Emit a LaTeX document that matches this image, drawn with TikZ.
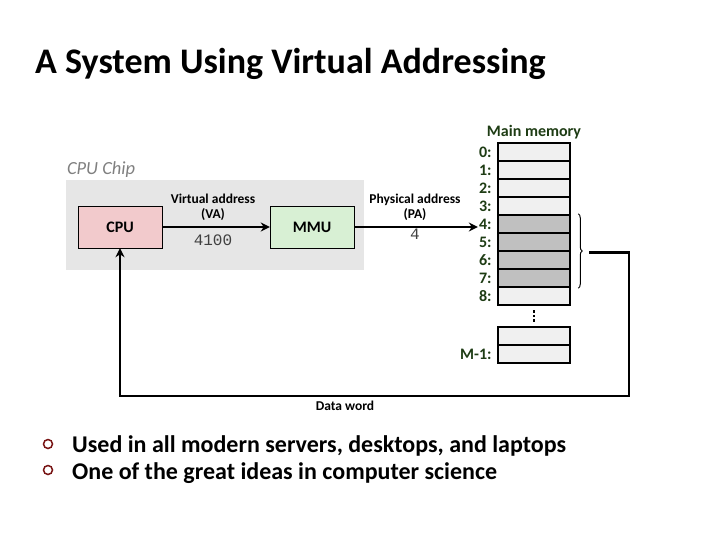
\documentclass[tikz,border=0pt]{standalone}
\usepackage{fontspec}
\setmainfont{Carlito}
\newfontfamily\codefont{Liberation Mono}
\usetikzlibrary{positioning,arrows.meta,decorations.pathreplacing}
\definecolor{chipgray}{RGB}{230,230,230}
\definecolor{cpupink}{RGB}{242,202,204}
\definecolor{mmugreen}{RGB}{216,240,212}
\definecolor{cellfill}{RGB}{240,240,240}
\definecolor{cellshade}{RGB}{192,192,192}
\definecolor{memgreen}{RGB}{30,60,20}
\definecolor{bulletred}{RGB}{120,20,20}
\newcommand\ch{18pt}

\begin{document}
\begin{tikzpicture}[x=1pt,y=-1pt,
			box/.style={draw,rectangle,minimum width=84pt,minimum height=42pt,inner sep=0pt,font=\bfseries\fontsize{16}{18}\selectfont},
			cell/.style={draw,line width=2.5pt,fill=cellfill,minimum width=72pt,minimum height=\ch,inner sep=0pt},
			hot/.style={cell,fill=cellshade},
			addr/.style={font=\bfseries\fontsize{16}{16}\selectfont,text=memgreen,inner sep=1pt},
			lbl/.style={align=center,font=\bfseries\fontsize{13.5}{15}\selectfont,inner sep=0pt},
			num/.style={font=\codefont\fontsize{16}{16}\selectfont,text=black!75,inner sep=0pt},
			point/.style={anchor=west,font=\bfseries\fontsize{24}{28}\selectfont,inner sep=0pt},
			ring/.style={circle,draw=bulletred,line width=1.5pt,minimum size=9pt,inner sep=0pt},
			wire/.style={line width=2.5pt,-{Stealth[length=9pt,width=9pt]}}
		]
		\useasboundingbox (0,0) rectangle (720,540);
		\node [anchor=base west,font=\bfseries\fontsize{36}{40}\selectfont,inner sep=0pt] (title) at (35,74) {A System Using Virtual Addressing};

		% the chip
		\node [fill=chipgray,minimum width=298pt,minimum height=90pt] (chip) at (215,225) {};
		\node [anchor=south west,font=\itshape\fontsize{18.5}{20}\selectfont,text=gray,inner sep=1pt] (chiplbl) at ([yshift=1pt]chip.north west) {CPU Chip};
		\node [box,fill=cpupink] (cpu) at (120,227) {CPU};
		\node [box,fill=mmugreen] (mmu) at (312,227) {MMU};

		% main memory
		\node [cell] (m0) at (534,152) {};
		\node [cell] (m1) at ([yshift=-\ch]m0) {};
		\node [cell] (m2) at ([yshift=-\ch]m1) {};
		\node [cell] (m3) at ([yshift=-\ch]m2) {};
		\node [hot] (m4) at ([yshift=-\ch]m3) {};
		\node [hot] (m5) at ([yshift=-\ch]m4) {};
		\node [hot] (m6) at ([yshift=-\ch]m5) {};
		\node [hot] (m7) at ([yshift=-\ch]m6) {};
		\node [cell] (m8) at ([yshift=-\ch]m7) {};
		\node [cell] (n0) at (534,336) {};
		\node [cell] (n1) at ([yshift=-\ch]n0) {};

		\node [addr,left=4pt of m0] (a0) {0:};
		\node [addr,left=4pt of m1] (a1) {1:};
		\node [addr,left=4pt of m2] (a2) {2:};
		\node [addr,left=4pt of m3] (a3) {3:};
		\node [addr,left=4pt of m4] (a4) {4:};
		\node [addr,left=4pt of m5] (a5) {5:};
		\node [addr,left=4pt of m6] (a6) {6:};
		\node [addr,left=4pt of m7] (a7) {7:};
		\node [addr,left=4pt of m8] (a8) {8:};
		\node [addr,left=4pt of n1] (am) {M-1:};
		\node [addr,above=2pt of m0] (memlbl) {Main memory};
		\draw [line width=2.5pt,dash pattern=on 2.5pt off 2pt] ([yshift=-4pt]m8.south) -- ([yshift=4pt]n0.north);

		% addresses
		\node [lbl] (va) at (213,207) {Virtual address\\(VA)};
		\node [num] (vnum) at (213,240) {4100};
		\node [lbl] (pa) at (415,207) {Physical address\\(PA)};
		\node [num] (pnum) at (415,234) {4};
		\draw [wire] (cpu) -- (mmu);
		\draw [wire] (mmu.east) -- (mmu.east -| a4.west);

		% data word back to the cpu
		\draw [decorate,decoration={brace,amplitude=4pt},line width=1pt] ([xshift=7pt]m4.north east) -- ([xshift=7pt]m7.south east);
		\coordinate (bt) at ([xshift=18pt]m5.south east);
		\coordinate (rc) at (629,396);
		\draw [wire] (bt) -| (rc) -| (cpu.south);
		\node [lbl] (dw) at (345,406) {Data word};

		\node [ring] (r1) at (48,444) {};
		\node [ring] (r2) at (48,470) {};
		\node [point] (p1) at (72,446) {Used in all modern servers, desktops, and laptops};
		\node [point] (p2) at (72,473) {One of the great ideas in computer science};
	\end{tikzpicture}
\end{document}
